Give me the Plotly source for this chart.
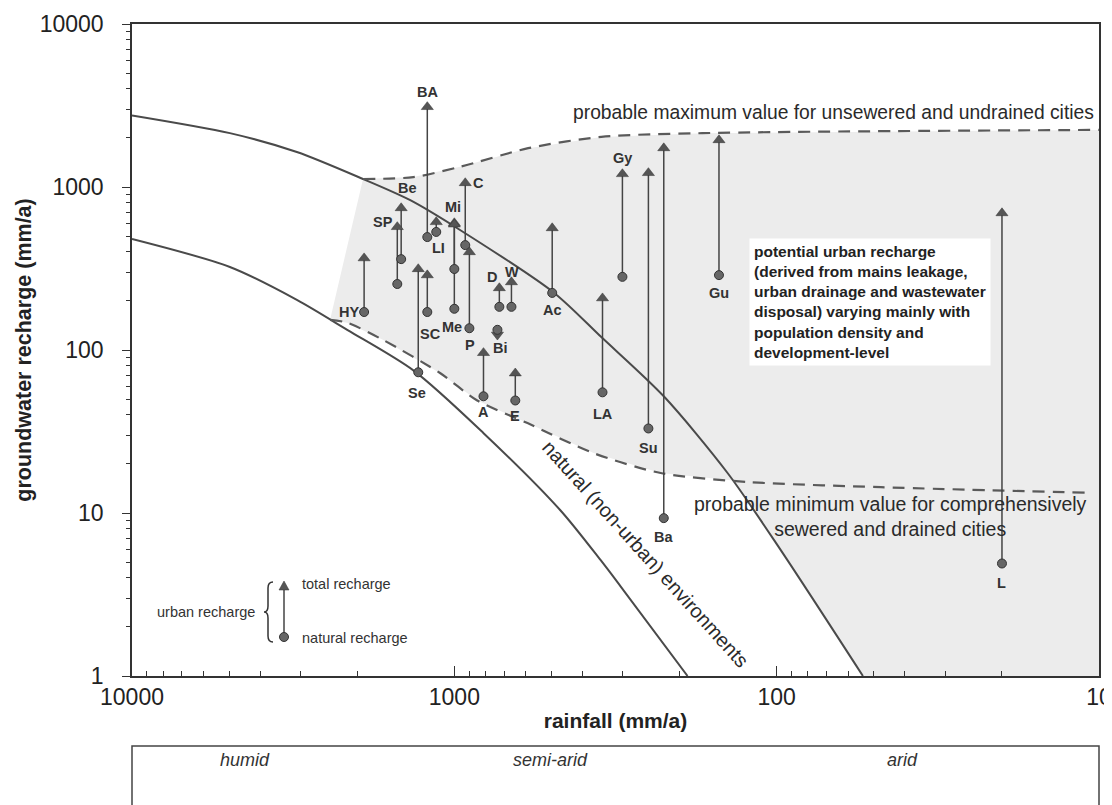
import numpy as np
import plotly.graph_objects as go

# ---- natural (non-urban) recharge envelope curves: rainfall (mm/a) -> recharge (mm/a)
upper_rain = [10000, 4970, 3080, 1920, 1370, 960, 490, 350, 224, 142, 97, 54]
upper_rech = [2750, 2140, 1640, 1120, 830, 545, 224, 120, 52, 17.6, 5.9, 1.0]
lower_rain = [10000, 4970, 3080, 2150, 1340, 813, 469, 352, 305, 189]
lower_rech = [480, 323, 203, 133, 75, 31, 10.4, 5.15, 3.55, 1.0]

# ---- probable maximum / minimum urban recharge (dashed)
max_rain = [1920, 1340, 960, 590, 350, 170, 10]
max_rech = [1120, 1150, 1330, 1730, 2030, 2140, 2240]
min_rain = [2430, 2150, 1660, 1105, 849, 593, 370, 229, 123, 47.5, 10.6]
min_rech = [153, 147, 115, 72, 49, 35.6, 23.3, 17.6, 15.5, 14.4, 13.3]

# ---- cities: natural recharge (circle) and total recharge (arrow head)
cities = ["HY", "SP", "Be", "Se", "BA", "SC", "LI", "Mi", "Me", "C", "P", "A",
          "Bi", "D", "W", "E", "Ac", "LA", "Gy", "Su", "Ba", "Gu", "L"]
city_rain = [1905, 1503, 1462, 1294, 1213, 1213, 1138, 1000, 1000, 925, 898, 812,
             735, 725, 665, 647, 497, 347, 301, 250, 224, 151, 20]
natural = [171, 254, 361, 73, 493, 171, 530, 314, 179, 440, 136, 52,
           133, 184, 184, 49, 224, 55, 281, 33, 9.3, 288, 4.9]
total = [366, 569, 743, 314, 3100, 288, 610, 601, 590, 1058, 399, 96,
         124, 240, 261, 72, 560, 208, 1202, 1220, 1733, 1942, 692]

y_ticks = [1, 10, 100, 1000, 10000]
y_ticktext = ["1", "10", "100", "1000", "10000"]
x_ticks = [10, 100, 1000, 10000]
x_ticktext = ["10", "100", "1000", "10000"]
climate_zones = ["humid", "semi-arid", "arid"]

# label placement (anchor on natural 'n' or total 't', pixel shifts) - styling only
label_pos = {
    "BA": ("t", 0, 15), "Be": ("t", 6, 20), "SP": ("t", -14, 5), "LI": ("n", 2, -16),
    "Mi": ("t", -1, 16), "Me": ("n", -2, -18), "C": ("t", 13, 0), "P": ("n", 1, -17),
    "HY": ("n", -15, 0), "SC": ("n", 3, -22), "Se": ("n", -1, -21), "D": ("t", -7, 11),
    "W": ("t", 1, 10), "Bi": ("n", 3, -18), "Ac": ("n", 0, -17), "A": ("n", 0, -16),
    "E": ("n", 0, -15), "LA": ("n", 0, -22), "Gy": ("t", 0, 16), "Su": ("n", 0, -20),
    "Ba": ("n", 0, -19), "Gu": ("n", 0, -18), "L": ("n", 0, -19),
}

SANS = "Liberation Sans, Arial, Helvetica, sans-serif"
SHADE = "#ececec"

fig = go.Figure()

# ---- grey shaded field of potential urban recharge
polyB_x = list(max_rain) + [max_rain[-1], upper_rain[-1]] + [r for r in upper_rain[::-1] if r <= max_rain[0]]
polyB_y = list(max_rech) + [1, 1] + [g for r, g in zip(upper_rain[::-1], upper_rech[::-1]) if r <= max_rain[0]]
fig.add_trace(go.Scatter(x=polyB_x, y=polyB_y, mode="lines", fill="toself",
                         fillcolor=SHADE, line=dict(width=0), hoverinfo="skip", showlegend=False))
uc = [(r, g) for r, g in zip(upper_rain, upper_rech) if max_rain[0] >= r >= 142]
mc = [(r, g) for r, g in zip(min_rain, min_rech) if r >= 123][::-1]
polyC = uc + mc + [uc[0]]
fig.add_trace(go.Scatter(x=[p[0] for p in polyC], y=[p[1] for p in polyC], mode="lines",
                         fill="toself", fillcolor=SHADE, line=dict(width=0),
                         hoverinfo="skip", showlegend=False))

# ---- natural envelope curves
for rx, ry in ((upper_rain, upper_rech), (lower_rain, lower_rech)):
    fig.add_trace(go.Scatter(x=rx, y=ry, mode="lines",
                             line=dict(color="#4a4a4a", width=2, shape="spline", smoothing=0.8),
                             hoverinfo="skip", showlegend=False))

# ---- dashed max / min lines
for rx, ry in ((max_rain, max_rech), (min_rain, min_rech)):
    fig.add_trace(go.Scatter(x=rx, y=ry, mode="lines",
                             line=dict(color="#5a5a5a", width=2.2, dash="12px,8px", shape="spline", smoothing=0.8),
                             hoverinfo="skip", showlegend=False))

# ---- arrow shafts
sx, sy = [], []
for r, n, t in zip(city_rain, natural, total):
    sx += [r, r, None]
    sy += [n, t, None]
fig.add_trace(go.Scatter(x=sx, y=sy, mode="lines", line=dict(color="#444", width=1.5),
                         hoverinfo="skip", showlegend=False))

# ---- arrow heads (total recharge)
fig.add_trace(go.Scatter(
    x=city_rain, y=total, mode="markers",
    marker=dict(symbol=["triangle-up" if t >= n else "triangle-down" for n, t in zip(natural, total)],
                size=10.5, color="#555", line=dict(color="#333", width=0.5)),
    hoverinfo="skip", showlegend=False))
# ---- natural recharge dots
fig.add_trace(go.Scatter(x=city_rain, y=natural, mode="markers",
                         marker=dict(symbol="circle", size=9, color="#666", line=dict(color="#333", width=1)),
                         hoverinfo="skip", showlegend=False))

# ---- city labels
for name, r, n, t in zip(cities, city_rain, natural, total):
    which, dx, dy = label_pos[name]
    yv = n if which == "n" else t
    fig.add_annotation(x=np.log10(r), y=np.log10(yv), xref="x", yref="y", text=name,
                       showarrow=False, xshift=dx, yshift=dy,
                       font=dict(family=SANS, size=14.5, color="#333", weight="bold"),
                       xanchor="center", yanchor="middle")

# ---- geometry: the page is shown with an 8px body margin; plot box on screen is x 132-1099, y 24-676
W, H = 1112, 805
OFF = 8
SX0, SX1, SY0, SY1 = 132, 1099, 24, 676
mL, mT = SX0 - OFF, SY0 - OFF
mR, mB = W - (SX1 - OFF), H - (SY1 - OFF)


def px(x):
    return (x - SX0) / (SX1 - SX0)


def py(y):
    return (SY1 - y) / (SY1 - SY0)


# ---- text annotations
fig.add_annotation(xref="paper", yref="paper", x=px(1096), y=py(112), xanchor="right", yanchor="middle",
                   text="probable maximum value for unsewered and undrained cities", showarrow=False,
                   font=dict(family=SANS, size=19.3, color="#2a2a2a"))
fig.add_annotation(xref="paper", yref="paper", x=px(890), y=py(516), xanchor="center", yanchor="middle",
                   text="probable minimum value for comprehensively<br>sewered and drained cities", align="center",
                   showarrow=False, font=dict(family=SANS, size=19.5, color="#2a2a2a"))
fig.add_annotation(xref="paper", yref="paper", x=px(749), y=py(238), xanchor="left", yanchor="top",
                   text=("potential urban recharge<br>(derived from mains leakage,<br>urban drainage and wastewater"
                         "<br>disposal) varying mainly with<br>population density and<br>development-level"),
                   align="left", showarrow=False, bgcolor="white", borderpad=4,
                   font=dict(family=SANS, size=15.5, color="#222", weight="bold"))
fig.add_annotation(xref="x", yref="y", x=np.log10(255), y=np.log10(5.6), textangle=48,
                   text="natural (non-urban) environments", showarrow=False,
                   font=dict(family=SANS, size=20, color="#2a2a2a"))

# ---- legend key
fig.add_annotation(xref="paper", yref="paper", x=px(257), y=py(612), xanchor="right", yanchor="middle",
                   text="urban recharge", showarrow=False, font=dict(family=SANS, size=14.5, color="#333"))
fig.add_annotation(xref="paper", yref="paper", x=px(300), y=py(584), xanchor="left", yanchor="middle",
                   text="total recharge", showarrow=False, font=dict(family=SANS, size=14.5, color="#333"))
fig.add_annotation(xref="paper", yref="paper", x=px(300), y=py(638), xanchor="left", yanchor="middle",
                   text="natural recharge", showarrow=False, font=dict(family=SANS, size=14.5, color="#333"))
shapes = []
shapes.append(dict(type="path", xref="paper", yref="paper", xsizemode="pixel", ysizemode="pixel",
                   xanchor=px(268), yanchor=py(612),
                   path="M 5,30 Q 0,30 0,24 L 0,6 Q 0,0 -4,0 Q 0,0 0,-6 L 0,-24 Q 0,-30 5,-30",
                   line=dict(color="#333", width=1.5)))
shapes.append(dict(type="line", xref="paper", yref="paper", x0=px(284), x1=px(284), y0=py(637), y1=py(588),
                   line=dict(color="#444", width=1.5)))
shapes.append(dict(type="path", xref="paper", yref="paper", xsizemode="pixel", ysizemode="pixel",
                   xanchor=px(284), yanchor=py(586), path="M -5,-4 L 5,-4 L 0,5 Z",
                   fillcolor="#555", line=dict(color="#333", width=0.5)))
shapes.append(dict(type="circle", xref="paper", yref="paper", xsizemode="pixel", ysizemode="pixel",
                   xanchor=px(284), yanchor=py(637), x0=-4.5, x1=4.5, y0=-4.5, y1=4.5,
                   fillcolor="#666", line=dict(color="#333", width=1)))

# ---- climate zone box
shapes.append(dict(type="rect", xref="paper", yref="paper", x0=0, x1=1, y0=py(746), y1=py(840),
                   line=dict(color="#444", width=1.5), fillcolor="rgba(0,0,0,0)"))
for name, xc in zip(climate_zones, (245, 550, 902)):
    fig.add_annotation(xref="paper", yref="paper", x=px(xc), y=py(760), xanchor="center", yanchor="middle",
                       text=name, showarrow=False,
                       font=dict(family=SANS, size=18, color="#333", style="italic"))

minor_vals = [m * 10 ** d for d in range(0, 4) for m in range(2, 10)]

fig.update_layout(
    width=W, height=H, margin=dict(l=mL, r=mR, t=mT, b=mB, autoexpand=False),
    paper_bgcolor="white", plot_bgcolor="white", showlegend=False, shapes=shapes,
    xaxis=dict(type="log", range=[4, 1], tickvals=x_ticks, ticktext=x_ticktext, automargin=False,
               showline=True, linecolor="#333", linewidth=1.5, mirror=True, showgrid=False, zeroline=False,
               ticks="inside", ticklen=10, tickwidth=1.2, tickcolor="#333",
               minor=dict(tickvals=minor_vals, ticks="inside", ticklen=5, tickcolor="#333", showgrid=False),
               tickfont=dict(family=SANS, size=23, color="#222"),
               title=dict(text="rainfall (mm/a)", standoff=4,
                          font=dict(family=SANS, size=21, color="#222", weight="bold"))),
    yaxis=dict(type="log", range=[0, 4], tickvals=y_ticks, ticktext=y_ticktext, automargin=False,
               showline=True, linecolor="#333", linewidth=1.5, mirror=True, showgrid=False, zeroline=False,
               ticks="outside", ticklen=8, tickwidth=1.2, tickcolor="#333", ticklabelstandoff=14,
               minor=dict(tickvals=minor_vals, ticks="outside", ticklen=4, tickcolor="#333", showgrid=False),
               tickfont=dict(family=SANS, size=23, color="#222"),
               title=dict(text="groundwater recharge (mm/a)", standoff=2,
                          font=dict(family=SANS, size=21.5, color="#222", weight="bold"))),
)

fig.write_html("out.html")
